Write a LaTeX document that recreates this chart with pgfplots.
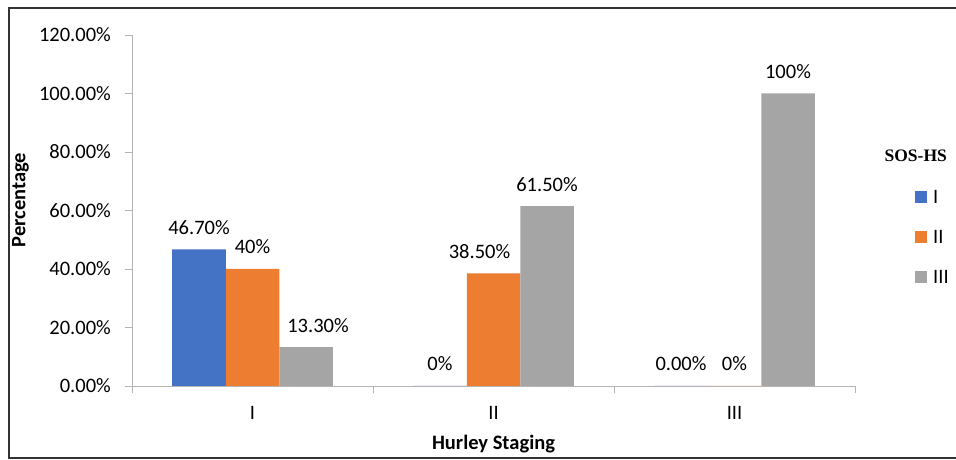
\documentclass[border=0pt]{standalone}
\usepackage{fontspec}
\setmainfont{Carlito}
\newfontfamily\titlefont{Liberation Serif}
\usepackage{pgfplots}
\usepackage{pgfplotstable}
\pgfplotsset{compat=1.18}
\definecolor{cblue}{HTML}{4472C4}
\definecolor{corange}{HTML}{ED7D31}
\definecolor{cgray}{HTML}{A5A5A5}
\definecolor{axgray}{HTML}{B4B4B4}
\definecolor{frame}{HTML}{333333}

\pgfplotstableread{
x y lab dx
0 46.7 46.70 0
1 0 0 0
2 0 0.00 0
}\seriesA
\pgfplotstableread{
x y lab dx
0 40 40 0
1 38.5 38.50 -14
2 0 0 0
}\seriesB
\pgfplotstableread{
x y lab dx
0 13.3 13.30 12
1 61.5 61.50 0
2 100 100 0
}\seriesC

\begin{document}
\begin{tikzpicture}
\useasboundingbox (0,0) rectangle (956pt,460pt);
\draw[frame, line width=1.3pt] (956pt,452pt) -- (9pt,452pt) -- (9pt,2pt) -- (956pt,2pt);
\begin{axis}[
  at={(132pt,74pt)}, anchor=south west,
  scale only axis, width=723pt, height=351pt,
  clip=false,
  ybar=0pt, bar width=53.5pt,
  xmin=-0.5, xmax=2.5, ymin=0, ymax=120,
  enlarge x limits=false,
  axis x line*=bottom, axis y line*=left,
  axis line style={draw=axgray, line width=0.9pt, -},
  tick style={draw=axgray, line width=0.9pt},
  tick align=outside,
  major tick length=7pt,
  xtick={-0.5,0.5,1.5,2.5}, xticklabels={},
  extra x ticks={0,1,2}, extra x tick labels={I,II,III},
  extra x tick style={major tick length=0pt},
  xticklabel style={anchor=base, inner sep=0pt, yshift=-34pt},
  ytick={0,20,40,60,80,100,120},
  yticklabels={0.00\%,20.00\%,40.00\%,60.00\%,80.00\%,100.00\%,120.00\%},
  yticklabel style={anchor=east, inner sep=0pt, xshift=-14pt},
  tick label style={font=\fontsize{20.5}{24}\selectfont},
  xlabel={Hurley Staging}, ylabel={Percentage},
  label style={font=\fontsize{20.5}{24}\selectfont\bfseries},
  xlabel style={at={(axis description cs:0.5,-0.182)}, anchor=base},
  ylabel style={at={(axis description cs:-0.1542,0.53)}, anchor=center},
  nodes near coords={\pgfplotspointmeta\%},
  point meta=explicit symbolic,
  visualization depends on={\thisrow{dx}\as\dx},
  every node near coord/.append style={font=\fontsize{20.5}{24}\selectfont, anchor=base, inner sep=0pt, yshift=15pt, xshift=\dx pt},
  legend image code/.code={\fill[#1] (0pt,-6pt) rectangle (12pt,6pt);},
  legend style={at={(rel axis cs:1.083,0.425)}, anchor=west, draw=none, fill=none,
    font=\fontsize{20.5}{24}\selectfont, inner sep=0pt, row sep=27pt, column sep=6pt,
    nodes={inner sep=0pt, text height=13pt, text depth=0pt}},
  legend cell align=left,
]
\addplot[fill=cblue, draw=none] table[x=x, y=y, meta=lab]{\seriesA};
\addplot[fill=corange, draw=none] table[x=x, y=y, meta=lab]{\seriesB};
\addplot[fill=cgray, draw=none] table[x=x, y=y, meta=lab]{\seriesC};
\legend{I,II,III}
\node[font=\fontsize{17.5}{20}\selectfont\titlefont\bfseries] at (rel axis cs:1.084,0.655) {SOS-HS};
\end{axis}
\end{tikzpicture}
\end{document}
